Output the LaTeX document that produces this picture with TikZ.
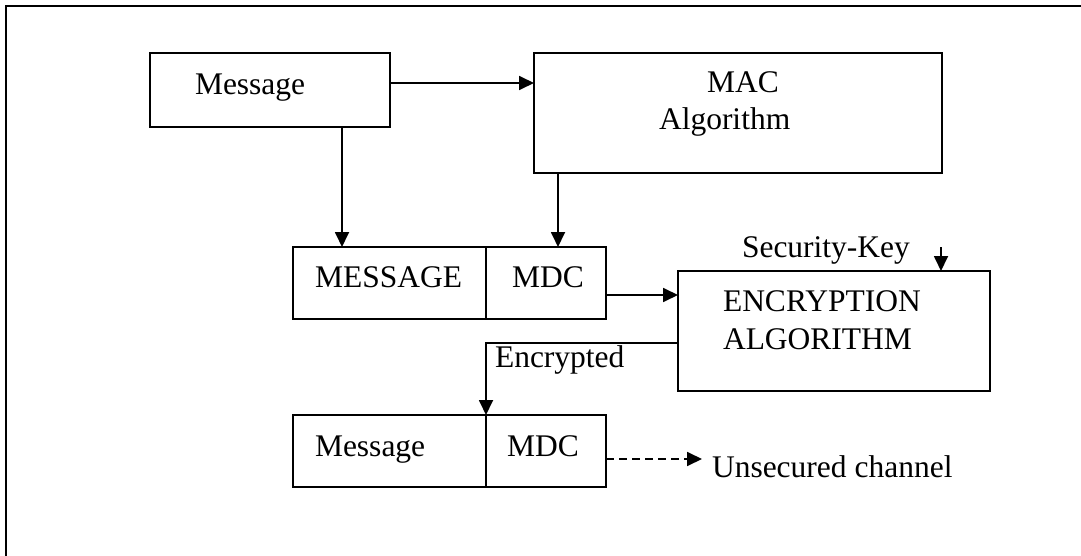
\documentclass[tikz,border=0pt]{standalone}
\usepackage{fontspec}
\setmainfont{Liberation Serif}
\usetikzlibrary{arrows.meta,calc}

\tikzset{
  box/.style={draw, line width=1.8pt, rectangle, inner sep=0pt, outer sep=0pt, anchor=north west},
  label/.style={anchor=base west, inner sep=0pt, outer sep=0pt, font=\fontsize{31.5pt}{37pt}\selectfont},
  flow/.style={line width=1.8pt, -{Triangle[length=15pt,width=14pt]}},
  frame/.style={line width=2.4pt}
}

\begin{document}
\begin{tikzpicture}[x=1pt,y=1pt]
  \useasboundingbox (0,0) rectangle (1081,-556);

  % outer frame (only its left and top sides fall inside the page)
  \draw[frame] (6,-560) |- (1085,-6);

  % boxes
  \node[box, minimum width=240pt, minimum height=74pt] (msg) at (150,-53) {};
  \node[box, minimum width=408pt, minimum height=120pt] (mac) at (534,-53) {};
  \node[box, minimum width=193pt, minimum height=72pt] (msgA) at (293,-247) {};
  \node[box, minimum width=120pt, minimum height=72pt] (mdcA) at (486,-247) {};
  \node[box, minimum width=312pt, minimum height=120pt] (enc) at (678,-271) {};
  \node[box, minimum width=193pt, minimum height=72pt] (msgB) at (293,-415) {};
  \node[box, minimum width=120pt, minimum height=72pt] (mdcB) at (486,-415) {};

  % texts
  \node[label] (tmsg) at (195,-95) {Message};
  \node[label] (tmac) at (707,-93) {MAC};
  \node[label] (talg) at (659,-130) {Algorithm};
  \node[label] (tmsgA) at (315,-287) {MESSAGE};
  \node[label] (tmdcA) at (512,-287) {MDC};
  \node[label] (tkey) at (742,-257) {Security-Key};
  \node[label] (tenc1) at (723,-311) {ENCRYPTION};
  \node[label] (tenc2) at (723,-349) {ALGORITHM};
  \node[label] (tcrypt) at (495,-367) {Encrypted};
  \node[label] (tmsgB) at (315,-456) {Message};
  \node[label] (tmdcB) at (507,-456) {MDC};
  \node[label] (tchan) at (712,-477) {Unsecured channel};

  % connector start points and free ends
  \coordinate (msgout) at ($(msg.south west)!0.8!(msg.south east)$);
  \coordinate (macout) at ([xshift=24pt]mac.south west);
  \coordinate (keytop) at (941,-247);
  \coordinate (chanend) at (702,-459);

  % connectors
  \draw[flow] ([yshift=7pt]msg.east) -- ([yshift=7pt]msg.east -| mac.west);
  \draw[flow] (msgout) -- (msgout |- msgA.north);
  \draw[flow] (macout) -- (macout |- mdcA.north);
  \draw[flow] ([yshift=-12pt]mdcA.east) -- ([yshift=-12pt]mdcA.east -| enc.west);
  \draw[flow] ([yshift=-12pt]enc.west) -| (mdcB.north west);
  \draw[flow] (keytop) -- (keytop |- enc.north);
  \draw[flow, dashed, dash pattern=on 8pt off 5pt] ([yshift=-8pt]mdcB.east) -- (chanend);
\end{tikzpicture}
\end{document}
